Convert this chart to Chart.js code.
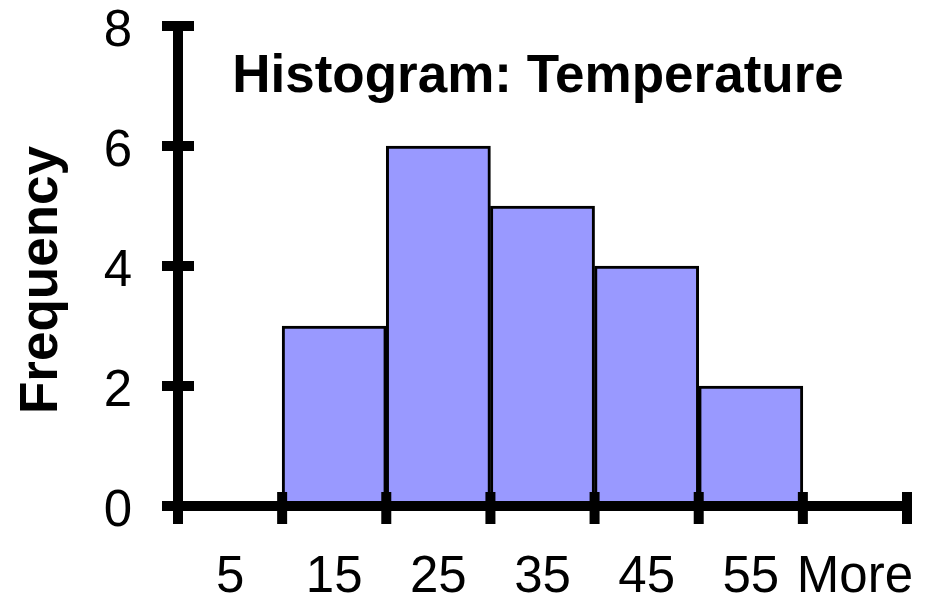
<!DOCTYPE html>
<html>
<head>
<meta charset="utf-8">
<script src="https://cdn.jsdelivr.net/npm/chart.js@4.4.1/dist/chart.umd.min.js"></script>
<style>
  html, body { margin: 0; padding: 0; background: #fff; }
  #wrap { width: 934px; height: 598px; }
</style>
</head>
<body>
<div id="wrap"><canvas id="chart" width="934" height="598"></canvas></div>
<script>
const binLabels = ['5', '15', '25', '35', '45', '55', 'More'];
const frequencies = [0, 3, 6, 5, 4, 2, 0];
const yTickValues = [0, 2, 4, 6, 8];
const chartTitle = 'Histogram: Temperature';
const yTitle = 'Frequency';

const FONT = '"Liberation Sans", Arial, sans-serif';

// Excel-style axes: thick lines with ticks that cross the axis
const excelAxes = {
  id: 'excelAxes',
  afterDatasetsDraw(chart) {
    const ctx = chart.ctx;
    const xs = chart.scales.x;
    const ys = chart.scales.y;
    const area = chart.chartArea;
    const lw = 10;
    const half = 16;
    ctx.save();
    ctx.fillStyle = '#000';
    ctx.fillRect(area.left - lw / 2, area.top, lw, area.bottom - area.top);
    ctx.fillRect(area.left - half, area.bottom - lw / 2, area.right - area.left + half, lw);
    yTickValues.forEach(v => {
      const py = ys.getPixelForValue(v);
      ctx.fillRect(area.left - half, py - lw / 2, half * 2, lw);
    });
    const step = (xs.right - xs.left) / binLabels.length;
    for (let i = 0; i <= binLabels.length; i++) {
      const px = xs.left + i * step;
      ctx.fillRect(px - lw / 2, area.bottom - half + 2, lw, half * 2);
    }
    ctx.restore();
  },
  afterDraw(chart) {
    const ctx = chart.ctx;
    const area = chart.chartArea;
    ctx.save();
    ctx.fillStyle = '#000';
    ctx.font = 'bold 53px ' + FONT;
    ctx.textAlign = 'center';
    ctx.textBaseline = 'alphabetic';
    ctx.fillText(chartTitle, area.left + 360, area.top + 66);

    ctx.translate(57, (area.top + area.bottom) / 2 + 14);
    ctx.rotate(-Math.PI / 2);
    ctx.fillText(yTitle, 0, 0);
    ctx.restore();
  }
};

new Chart(document.getElementById('chart'), {
  type: 'bar',
  data: {
    labels: binLabels,
    datasets: [{
      label: 'Frequency',
      data: frequencies,
      backgroundColor: '#9999ff',
      borderColor: '#000',
      borderWidth: 3,
      borderSkipped: false,
      barPercentage: 1,
      categoryPercentage: 1
    }]
  },
  options: {
    responsive: false,
    animation: false,
    devicePixelRatio: 1,
    layout: { padding: { top: 26, right: 27, left: 0, bottom: 0 } },
    plugins: {
      legend: { display: false },
      tooltip: { enabled: false }
    },
    scales: {
      x: {
        grid: { display: false, drawTicks: false },
        border: { display: false },
        ticks: {
          color: '#000',
          padding: 46,
          maxRotation: 0,
          autoSkip: false,
          font: { family: FONT, size: 51, lineHeight: 1 }
        },
        afterFit: s => { s.height = 92; s.paddingLeft = 0; s.paddingRight = 0; }
      },
      y: {
        min: 0,
        max: 8,
        grid: { display: false, drawTicks: false },
        border: { display: false },
        ticks: {
          stepSize: 2,
          color: '#000',
          padding: 46,
          labelOffset: 6,
          font: { family: FONT, size: 51, lineHeight: 1 }
        },
        afterFit: s => { s.width = 178; s.paddingTop = 0; s.paddingBottom = 0; }
      }
    }
  },
  plugins: [excelAxes]
});
</script>
</body>
</html>
